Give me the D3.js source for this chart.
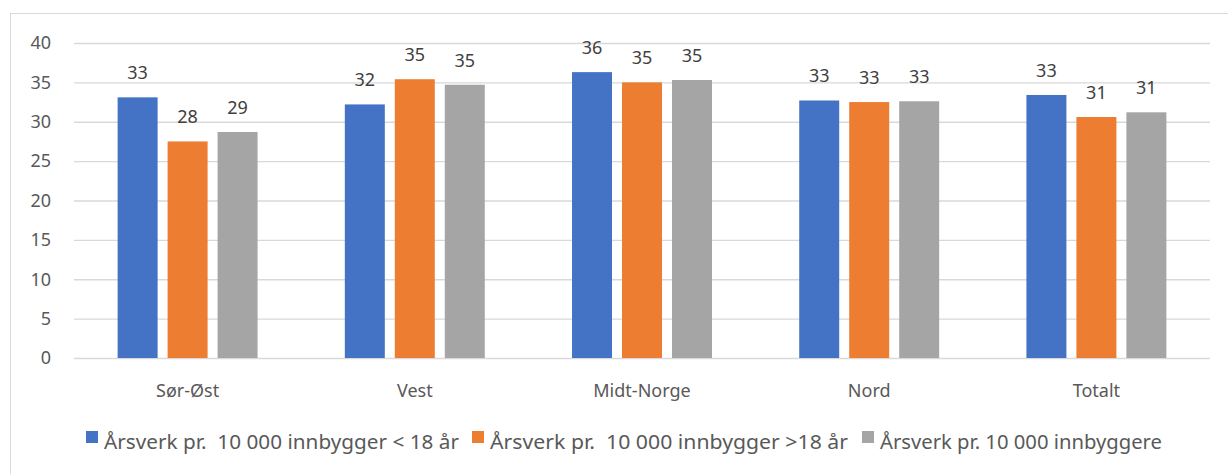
<!DOCTYPE html>
<html>
<head>
<meta charset="utf-8">
<script src="https://cdn.jsdelivr.net/npm/d3@7"></script>
<style>
body{margin:0;background:#fff;}
text{font-family:"Noto Sans",sans-serif;fill:#595959;}
</style>
</head>
<body>
<svg id="chart" width="1228" height="474"></svg>
<script>
// regions along x axis
var regions=["Sør-Øst","Vest","Midt-Norge","Nord","Totalt"];
var seriesNames=["Årsverk pr.  10 000 innbygger < 18 år","Årsverk pr.  10 000 innbygger >18 år","Årsverk pr. 10 000 innbyggere"];
var under18=[33.1,32.2,36.3,32.7,33.4];
var over18=[27.5,35.4,35.0,32.5,30.6];
var total=[28.7,34.7,35.3,32.6,31.2];
var yTicks=[0,5,10,15,20,25,30,35,40];
var colors=["#4472C4","#ED7D31","#A5A5A5"];

var svg=d3.select("#chart");
var plotL=74,plotR=1210,plotT=43,plotB=358; // plot area edges

// outer border of the chart box
svg.append("rect").attr("x",10.5).attr("y",13.5).attr("width",1240).attr("height",500)
	.style("fill","none").style("stroke","#d9d9d9");

var y=d3.scaleLinear().domain([0,40]).range([plotB,plotT]);
var x0=d3.scaleBand().domain(regions).range([plotL,plotR]).paddingInner(0.384).paddingOuter(0.192);
var x1=d3.scaleBand().domain([0,1,2]).range([0,x0.bandwidth()]).paddingInner(0.2);

// gridlines + tick labels
var yAxis=svg.append("g").attr("transform","translate("+plotL+",0)")
	.call(d3.axisLeft(y).tickValues(yTicks).tickSize(-(plotR-plotL)).tickPadding(23));
yAxis.select(".domain").remove();
yAxis.selectAll("line").attr("stroke","#d9d9d9").attr("stroke-width",1.3);
yAxis.selectAll("text").style("font-size","18px").style("fill","#595959").attr("font-family",null);

var data=[under18,over18,total];
var groups=svg.selectAll("g.series").data(data).enter().append("g").attr("class","series");
groups.each(function(vals,si){
	var g=d3.select(this);
	g.selectAll("rect").data(vals).enter().append("rect")
		.attr("x",function(d,i){return x0(regions[i])+x1(si);})
		.attr("y",function(d){return y(d);})
		.attr("width",x1.bandwidth())
		.attr("height",function(d){return plotB-y(d);})
		.style("fill",colors[si]);
	g.selectAll("text").data(vals).enter().append("text")
		.attr("x",function(d,i){return x0(regions[i])+x1(si)+x1.bandwidth()/2;})
		.attr("y",function(d){return y(d)-18;})
		.attr("text-anchor","middle")
		.style("font-size","18px").style("fill","#404040")
		.text(function(d){return Math.round(d);});
});

// category labels
svg.append("g").selectAll("text").data(regions).enter().append("text")
	.attr("x",function(d){return x0(d)+x0.bandwidth()/2;})
	.attr("y",397)
	.attr("text-anchor","middle")
	.style("font-size","18px")
	.text(function(d){return d;});

// legend
var legX=[86,472,862];
var legW=[355,358,282];
var leg=svg.append("g").selectAll("g").data(seriesNames).enter().append("g");
leg.append("rect").attr("x",function(d,i){return legX[i];}).attr("y",431).attr("width",12).attr("height",12)
	.style("fill",function(d,i){return colors[i];});
leg.append("text").attr("x",function(d,i){return legX[i]+18;}).attr("y",449)
	.style("font-size","19px").style("white-space","pre")
	.attr("textLength",function(d,i){return legW[i];}).attr("lengthAdjust","spacingAndGlyphs")
	.text(function(d){return d;});
</script>
</body>
</html>
